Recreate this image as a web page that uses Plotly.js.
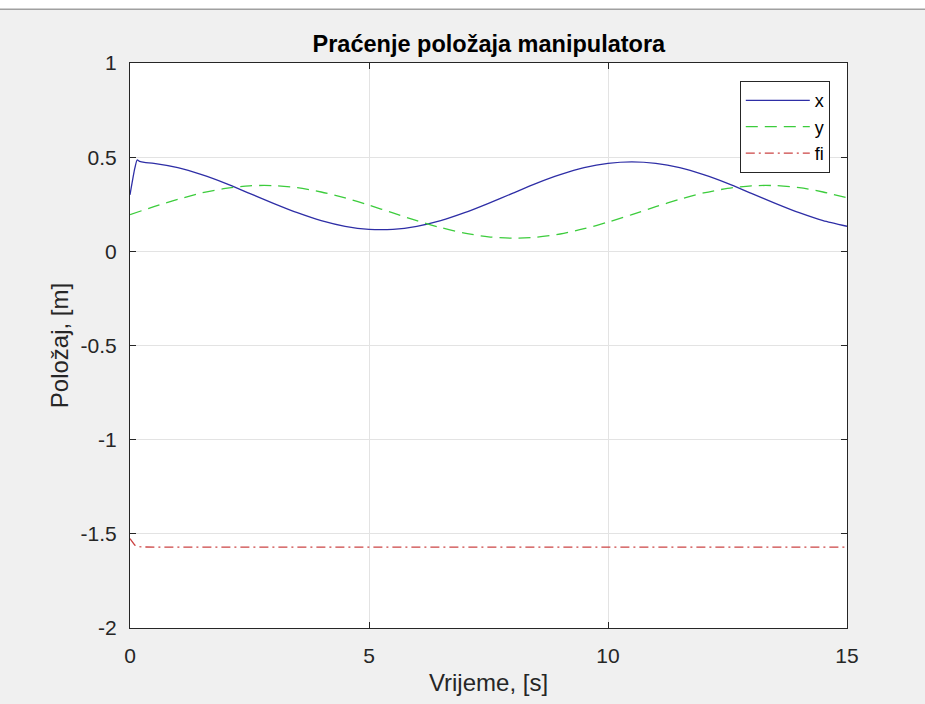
<!DOCTYPE html>
<html>
<head>
<meta charset="utf-8">
<script src="https://cdn.plot.ly/plotly-3.0.1.min.js"></script>
<style>
html,body{margin:0;padding:0;background:#f0f0f0;}
#chart{width:925px;height:704px;}
</style>
</head>
<body>
<div id="chart"></div>
<script>
// Time samples [s]
const tX = [0, 0.1, 0.15, 0.2, 0.3, 0.5, 1, 1.5, 2, 2.5, 3, 3.5, 4, 4.5, 5, 5.5, 6, 6.5, 7, 7.5, 8, 8.5, 9, 9.5, 10, 10.5, 11, 11.5, 12, 12.5, 13, 13.5, 14, 14.5, 15];
const xVals = [0.30, 0.44, 0.485, 0.478, 0.472, 0.467, 0.444, 0.407, 0.361, 0.308, 0.255, 0.205, 0.163, 0.133, 0.117, 0.117, 0.133, 0.163, 0.205, 0.255, 0.308, 0.361, 0.407, 0.444, 0.467, 0.475, 0.467, 0.444, 0.407, 0.361, 0.308, 0.255, 0.205, 0.163, 0.133];

const tY = [0, 0.5, 1, 1.5, 2, 2.5, 3, 3.5, 4, 4.5, 5, 5.5, 6, 6.5, 7, 7.5, 8, 8.5, 9, 9.5, 10, 10.5, 11, 11.5, 12, 12.5, 13, 13.5, 14, 14.5, 15];
const yVals = [0.195, 0.237, 0.276, 0.310, 0.334, 0.348, 0.349, 0.338, 0.315, 0.284, 0.245, 0.204, 0.163, 0.126, 0.097, 0.077, 0.070, 0.075, 0.092, 0.120, 0.155, 0.195, 0.237, 0.276, 0.310, 0.334, 0.348, 0.349, 0.338, 0.315, 0.284];

const tFi = [0, 0.05, 0.1, 0.2, 0.3, 1, 3, 5, 7, 9, 11, 13, 15];
const fiVals = [-1.525, -1.545, -1.56, -1.568, -1.570, -1.5705, -1.5706, -1.5707, -1.5707, -1.5707, -1.5707, -1.5708, -1.5708];

const seriesNames = ['x', 'y', 'fi'];
const xTicks = [0, 5, 10, 15];
const yTicks = [-2, -1.5, -1, -0.5, 0, 0.5, 1];

const font = 'Liberation Sans, Arial, Helvetica, sans-serif';
const dark = '#262626';

const traces = [
  {x: tX, y: xVals, name: seriesNames[0], mode: 'lines', line: {color: '#2e2ea6', width: 1.3, dash: 'solid', shape: 'spline', smoothing: 0.6}},
  {x: tY, y: yVals, name: seriesNames[1], mode: 'lines', line: {color: '#3ccc3c', width: 1.3, dash: '12px,7px', shape: 'spline', smoothing: 0.8}},
  {x: tFi, y: fiVals, name: seriesNames[2], mode: 'lines', line: {color: '#cc4444', width: 1.3, dash: '9px,4px,2px,4px'}}
];

const layout = {
  width: 925, height: 704,
  paper_bgcolor: '#f0f0f0',
  plot_bgcolor: '#ffffff',
  margin: {l: 130, r: 78, t: 63, b: 76},
  font: {family: font, color: dark, size: 21},
  title: {text: '<b>Praćenje položaja manipulatora</b>', font: {family: font, size: 23.5, color: '#000'}, x: 0.5285, xanchor: 'center', y: 0.938, yanchor: 'middle'},
  xaxis: {
    range: [0, 15], tickvals: xTicks, ticktext: xTicks.map(String),
    ticks: 'inside', ticklen: 6, tickcolor: dark, showline: true, linecolor: dark, linewidth: 1, mirror: 'ticks',
    showgrid: true, gridcolor: '#e3e3e3', zeroline: false,
    tickfont: {family: font, size: 21, color: dark}, ticklabelstandoff: 9,
    title: {text: 'Vrijeme, [s]', font: {family: font, size: 24, color: dark}, standoff: 7}
  },
  yaxis: {
    range: [-2, 1], tickvals: yTicks, ticktext: yTicks.map(String),
    ticks: 'inside', ticklen: 6, tickcolor: dark, showline: true, linecolor: dark, linewidth: 1, mirror: 'ticks',
    showgrid: true, gridcolor: '#e3e3e3', zeroline: false,
    tickfont: {family: font, size: 21, color: dark}, ticklabelstandoff: 8,
    title: {text: 'Položaj, [m]', font: {family: font, size: 24, color: dark}, standoff: 5}
  },
  showlegend: true,
  legend: {
    x: 0.976, xanchor: 'right', y: 0.968, yanchor: 'top',
    bgcolor: '#ffffff', bordercolor: dark, borderwidth: 1,
    font: {family: font, size: 18, color: '#000'},
    itemwidth: 64, tracegroupgap: 0
  },
  shapes: [
    {type: 'rect', xref: 'paper', yref: 'paper', x0: -0.2, x1: 1.2, y0: 1.095, y1: 1.2, fillcolor: '#ffffff', line: {width: 0}, layer: 'below'},
    {type: 'line', xref: 'paper', yref: 'paper', x0: -0.2, x1: 1.2, y0: 1.095, y1: 1.095, line: {color: '#a0a0a0', width: 1.5}}
  ]
};

Plotly.newPlot('chart', traces, layout, {displayModeBar: false, staticPlot: true});
</script>
</body>
</html>
